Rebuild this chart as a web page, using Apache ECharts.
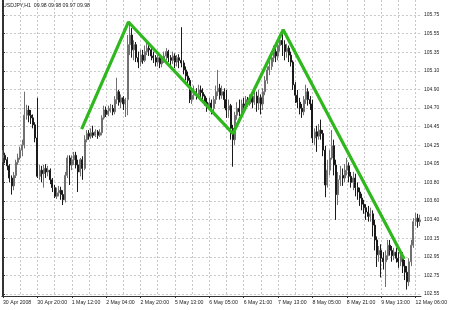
<!DOCTYPE html>
<html><head><meta charset="utf-8">
<script src="https://cdn.jsdelivr.net/npm/echarts@6/dist/echarts.min.js"></script>
<style>html,body{margin:0;padding:0;background:#fff}#c{width:450px;height:310px}</style>
</head><body><div id="c"></div>
<script>
const chartTitle = 'USDJPY,H1  09.98 09.98 09.97 09.98';
const timeLabels = ['30 Apr 2008','30 Apr 20:00','1 May 12:00','2 May 04:00','2 May 20:00','5 May 13:00','6 May 05:00','6 May 21:00','7 May 13:00','8 May 05:00','8 May 21:00','9 May 13:00','12 May 06:00'];
const yTickValues = [102.55,102.7633,102.9767,103.19,103.4033,103.6167,103.83,104.0433,104.2567,104.47,104.6833,104.8967,105.11,105.3233,105.5367,105.75];
const yTickLabels = ['102.55','102.75','102.95','103.15','103.40','103.60','103.80','104.05','104.25','104.45','104.70','104.90','105.10','105.35','105.55','105.75'];

const opens = [
104.11,104.14,104.09,104.02,103.88,103.79,103.91,104.06,104.11,104.20,
104.26,104.60,104.66,104.60,104.57,104.49,104.34,103.90,103.97,103.93,
103.99,103.95,103.97,103.86,103.77,103.67,103.71,103.74,103.69,103.63,
103.91,104.11,104.03,104.09,104.14,104.03,103.95,104.09,103.99,104.32,
104.39,104.36,104.40,104.37,104.41,104.37,104.40,104.57,104.66,104.61,
104.65,104.68,104.64,104.78,104.87,104.75,104.80,104.73,104.78,105.41,
105.52,105.35,105.41,105.26,105.21,105.29,105.23,105.33,105.37,105.35,
105.28,105.26,105.21,105.26,105.19,105.23,105.28,105.33,105.26,105.23,
105.28,105.21,105.26,105.23,105.20,105.12,105.05,105.00,104.78,104.83,
104.87,104.83,104.89,104.86,104.82,104.75,104.71,104.74,104.68,104.78,
104.87,104.91,104.83,104.87,104.78,104.66,104.71,104.45,104.32,104.60,
104.68,104.64,104.73,104.71,104.78,104.73,104.80,104.75,104.82,104.74,
104.80,104.73,104.87,105.00,105.12,105.16,105.26,105.33,105.28,105.40,
105.46,105.41,105.33,105.37,105.29,105.21,104.95,104.83,104.75,104.68,
104.64,104.78,104.87,104.78,104.73,104.34,104.41,104.36,104.43,104.39,
104.20,103.80,103.97,104.11,104.25,104.03,103.69,103.86,103.91,103.88,
103.97,104.02,103.90,103.83,103.88,103.77,103.72,103.65,103.58,103.54,
103.49,103.44,103.47,103.34,103.17,103.00,103.05,102.96,102.92,102.99,
103.11,103.05,102.99,103.03,102.96,102.92,102.99,102.87,102.80,102.69,
102.92,103.11,103.38,103.42,103.38];

const closes = [
104.14,104.09,104.02,103.88,103.79,103.91,104.06,104.11,104.20,104.26,
104.60,104.66,104.60,104.57,104.49,104.34,103.90,103.97,103.93,103.99,
103.95,103.97,103.86,103.77,103.67,103.71,103.74,103.69,103.63,103.91,
104.11,104.03,104.09,104.14,104.03,103.95,104.09,103.99,104.32,104.39,
104.36,104.40,104.37,104.41,104.37,104.40,104.57,104.66,104.61,104.65,
104.68,104.64,104.78,104.87,104.75,104.80,104.73,104.78,105.41,105.52,
105.35,105.41,105.26,105.21,105.29,105.23,105.33,105.37,105.35,105.28,
105.26,105.21,105.26,105.19,105.23,105.28,105.33,105.26,105.23,105.28,
105.21,105.26,105.23,105.20,105.12,105.05,105.00,104.78,104.83,104.87,
104.83,104.89,104.86,104.82,104.75,104.71,104.74,104.68,104.78,104.87,
104.91,104.83,104.87,104.78,104.66,104.71,104.45,104.32,104.60,104.68,
104.64,104.73,104.71,104.78,104.73,104.80,104.75,104.82,104.74,104.80,
104.73,104.87,105.00,105.12,105.16,105.26,105.33,105.28,105.40,105.46,
105.41,105.33,105.37,105.29,105.21,104.95,104.83,104.75,104.68,104.64,
104.78,104.87,104.78,104.73,104.34,104.41,104.36,104.43,104.39,104.20,
103.80,103.97,104.11,104.25,104.03,103.69,103.86,103.91,103.88,103.97,
104.02,103.90,103.83,103.88,103.77,103.72,103.65,103.58,103.54,103.49,
103.44,103.47,103.34,103.17,103.00,103.05,102.96,102.92,102.99,103.11,
103.05,102.99,103.03,102.96,102.92,102.99,102.87,102.80,102.69,102.92,
103.11,103.38,103.42,103.38,103.40];

const lows = [
104.06,104.05,103.97,103.83,103.69,103.74,103.88,104.03,104.09,104.13,
104.22,104.55,104.52,104.50,104.45,104.29,103.88,103.86,103.83,103.77,
103.88,103.90,103.81,103.72,103.65,103.64,103.67,103.63,103.57,103.60,
103.88,103.80,103.97,104.03,103.99,103.72,103.90,103.86,103.97,104.29,
104.32,104.33,104.34,104.35,104.33,104.35,104.37,104.55,104.58,104.59,
104.63,104.60,104.61,104.73,104.71,104.68,104.66,104.58,104.60,105.29,
105.26,105.23,105.21,105.14,105.16,105.19,105.21,105.29,105.28,105.23,
105.20,105.16,105.16,105.14,105.15,105.20,105.23,105.21,105.16,105.19,
105.14,105.16,105.14,105.15,105.07,105.00,104.96,104.74,104.73,104.78,
104.78,104.80,104.81,104.75,104.71,104.64,104.66,104.61,104.64,104.73,
104.82,104.78,104.79,104.68,104.57,104.57,104.32,104.01,104.26,104.55,
104.59,104.57,104.66,104.68,104.70,104.71,104.68,104.72,104.64,104.66,
104.61,104.66,104.83,104.96,105.06,105.12,105.21,105.21,105.23,105.33,
105.28,105.23,105.26,105.21,105.16,104.89,104.74,104.68,104.61,104.57,
104.60,104.73,104.71,104.66,104.28,104.26,104.18,104.32,104.32,104.13,
103.66,103.77,103.91,104.09,103.91,103.40,103.57,103.79,103.79,103.83,
103.91,103.83,103.77,103.74,103.67,103.63,103.56,103.51,103.47,103.40,
103.38,103.38,103.21,103.05,102.86,102.92,102.74,102.83,102.63,102.94,
102.99,102.92,102.94,102.91,102.85,102.87,102.79,102.71,102.60,102.64,
102.87,103.08,103.33,103.31,103.33];

const highs = [
104.20,104.17,104.12,104.04,103.91,103.95,104.09,104.16,104.24,104.32,
104.87,104.72,104.71,104.66,104.61,104.52,104.80,104.03,104.02,104.03,
104.04,104.02,103.99,103.88,103.80,103.77,103.79,103.78,103.74,103.95,
104.14,104.14,104.14,104.18,104.18,104.09,104.11,104.13,104.37,104.43,
104.43,104.45,104.48,104.44,104.43,104.44,104.60,104.71,104.70,104.71,
104.73,104.72,104.82,105.03,104.89,104.84,104.82,104.80,105.52,105.64,
105.60,105.46,105.44,105.33,105.35,105.35,105.40,105.44,105.42,105.39,
105.33,105.29,105.30,105.29,105.28,105.33,105.37,105.35,105.29,105.33,
105.31,105.29,105.30,105.61,105.23,105.16,105.10,105.03,104.91,104.94,
104.91,104.95,104.94,104.91,104.84,104.80,104.80,104.78,104.82,104.94,
105.12,104.96,104.94,104.91,104.89,104.78,104.73,104.49,104.64,104.75,
104.78,104.78,104.80,104.82,104.81,104.84,104.83,104.89,104.87,104.89,
104.84,104.91,105.05,105.16,105.23,105.33,105.40,105.42,105.46,105.53,
105.58,105.46,105.42,105.40,105.33,105.23,104.98,104.89,104.80,104.73,
104.82,104.95,104.91,104.82,104.78,104.45,104.48,104.50,104.55,104.43,
104.25,104.09,104.20,104.43,104.32,104.09,103.95,104.02,103.99,104.04,
104.11,104.06,103.95,103.95,103.93,103.83,103.77,103.70,103.63,103.58,
103.56,103.54,103.51,103.40,103.21,103.10,103.12,103.03,103.05,103.17,
103.17,103.10,103.08,103.08,103.03,103.03,103.03,102.94,102.87,102.96,
103.17,103.42,103.48,103.47,103.46];

const trendBar = [36.6, 58.4, 107.0, 130.4, 186.7];
const trendPrice = [104.44, 105.67, 104.39, 105.58, 102.95];

const categories = opens.map((_, i) => String(i));
const candleData = opens.map((o, i) => [o, closes[i], lows[i], highs[i]]);
const trendData = trendBar.map((b, i) => [b, trendPrice[i]]);

const FONT = '"Liberation Sans",Arial,sans-serif';
const chart = echarts.init(document.getElementById('c'), null, {renderer: 'canvas'});
chart.setOption({
  animation: false,
  backgroundColor: '#ffffff',
  graphic: [{
    type: 'text', left: 3, top: 3, z: 10,
    style: {text: chartTitle, font: '5.2px ' + FONT, fill: '#222'}
  }],
  grid: {left: 0.5, right: 23, top: 0, bottom: 14, show: false},
  xAxis: [{
    type: 'category', data: categories, boundaryGap: true,
    axisLine: {show: true, lineStyle: {color: '#333', width: 1}},
    axisTick: {show: true, alignWithLabel: true, interval: 15, length: 2, lineStyle: {color: '#333'}},
    axisLabel: {
      interval: 15, align: 'left', margin: 4, fontSize: 5.2, fontFamily: FONT, color: '#222',
      formatter: (v, idx) => timeLabels[Math.round(idx / 16)] || ''
    },
    splitLine: {show: true, interval: 7, alignWithLabel: true, lineStyle: {color: '#c8c8c8', type: [2, 2], width: 1}}
  }, {
    type: 'value', min: -0.5, max: 194.5, show: false
  }],
  yAxis: [{
    type: 'value', position: 'right', min: 102.527, max: 105.922, scale: true,
    axisLine: {show: true, lineStyle: {color: '#333', width: 1}},
    axisTick: {show: true, length: 2, customValues: yTickValues, lineStyle: {color: '#333'}},
    axisLabel: {
      customValues: yTickValues, margin: 3, fontSize: 5, fontFamily: FONT, color: '#222',
      formatter: (v) => {
        let best = 0;
        for (let k = 1; k < yTickValues.length; k++) {
          if (Math.abs(yTickValues[k] - v) < Math.abs(yTickValues[best] - v)) best = k;
        }
        return yTickLabels[best];
      }
    },
    splitLine: {show: true, lineStyle: {color: '#c8c8c8', type: [2, 2], width: 1}}
  }, {
    type: 'value', position: 'left', min: 102.527, max: 105.922,
    axisLine: {show: true, lineStyle: {color: '#333', width: 1}},
    axisTick: {show: false}, axisLabel: {show: false}, splitLine: {show: false}
  }],
  series: [{
    type: 'candlestick', xAxisIndex: 0, yAxisIndex: 0,
    data: candleData, barWidth: 1.5,
    itemStyle: {color: '#a8a8a8', color0: '#1a1a1a', borderColor: '#707070', borderColor0: '#1a1a1a', borderWidth: 1}
  }, {
    type: 'line', xAxisIndex: 1, yAxisIndex: 0, data: trendData,
    symbol: 'none', lineStyle: {color: '#2fb81e', width: 3.2}, z: 5
  }]
});
</script></body></html>
